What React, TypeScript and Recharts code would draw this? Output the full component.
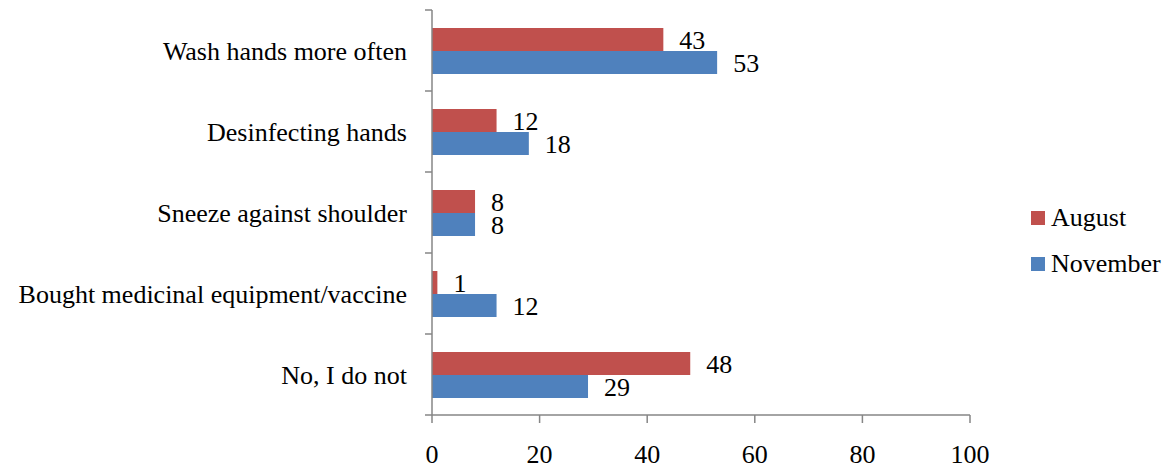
import React from 'react';
import { BarChart, Bar, XAxis, YAxis, LabelList } from 'recharts';

const categories = [
  'Wash hands more often',
  'Desinfecting hands',
  'Sneeze against shoulder',
  'Bought medicinal equipment/vaccine',
  'No, I do not',
];
const august = [43, 12, 8, 1, 48];
const november = [53, 18, 8, 12, 29];
const xTicks = [0, 20, 40, 60, 80, 100];

const data = categories.map((name, i) => ({ name, august: august[i], november: november[i] }));

const FONT = '"Liberation Serif", "Times New Roman", serif';
const AXIS_GRAY = '#868686';
const RED = '#C0504D';
const BLUE = '#4F81BD';
const Y_TICK_SIZE = 7;
const Y_TICK_MARGIN = 18;

const legendItems = [
  { label: 'August', color: RED },
  { label: 'November', color: BLUE },
];

// Category label plus Excel-style tick marks between the bands
const CategoryTick = (props: any) => {
  const { x, y, payload, index, visibleTicksCount } = props;
  const half = payload.offset || 0;
  const axisX = x + Y_TICK_SIZE + Y_TICK_MARGIN;
  const isLast = index === (visibleTicksCount ?? categories.length) - 1;
  return (
    <g>
      <line x1={axisX - Y_TICK_SIZE} x2={axisX} y1={y - half} y2={y - half} stroke={AXIS_GRAY} strokeWidth={1.5} />
      {isLast && (
        <line x1={axisX - Y_TICK_SIZE} x2={axisX} y1={y + half} y2={y + half} stroke={AXIS_GRAY} strokeWidth={1.5} />
      )}
      <text x={x} y={y} dy="0.35em" textAnchor="end" fontFamily={FONT} fontSize={26} fill="#000">
        {payload.value}
      </text>
    </g>
  );
};

const App: React.FC = () => {
  return (
    <div style={{ position: 'relative', width: 1164, height: 462, background: '#fff' }}>
      <BarChart
        width={1164}
        height={462}
        data={data}
        layout="vertical"
        margin={{ top: 2, right: 202, left: 0, bottom: 0 }}
        barCategoryGap={18}
        barGap={0}
      >
        <XAxis
          type="number"
          domain={[0, 100]}
          ticks={xTicks}
          height={55}
          stroke={AXIS_GRAY}
          strokeWidth={1.5}
          tickSize={8}
          tickMargin={22}
          tick={{ fill: '#000', fontSize: 26, fontFamily: FONT }}
        />
        <YAxis
          type="category"
          dataKey="name"
          width={424}
          stroke={AXIS_GRAY}
          strokeWidth={1.5}
          tickLine={false}
          tickSize={Y_TICK_SIZE}
          tickMargin={Y_TICK_MARGIN}
          tick={<CategoryTick />}
          interval={0}
        />
        <Bar dataKey="august" name="August" fill={RED} isAnimationActive={false}>
          <LabelList dataKey="august" position="right" offset={16} fill="#000" fontSize={26} fontFamily={FONT} />
        </Bar>
        <Bar dataKey="november" name="November" fill={BLUE} isAnimationActive={false}>
          <LabelList dataKey="november" position="right" offset={16} fill="#000" fontSize={26} fontFamily={FONT} />
        </Bar>
      </BarChart>
      <div style={{ position: 'absolute', left: 1023, top: 187, fontFamily: FONT, fontSize: 26, color: '#000' }}>
        {legendItems.map((item) => (
          <div key={item.label} style={{ display: 'flex', alignItems: 'center', height: 46 }}>
            <span style={{ width: 14, height: 14, background: item.color, marginRight: 6, display: 'inline-block' }} />
            <span style={{ lineHeight: '26px' }}>{item.label}</span>
          </div>
        ))}
      </div>
    </div>
  );
};

export default App;
